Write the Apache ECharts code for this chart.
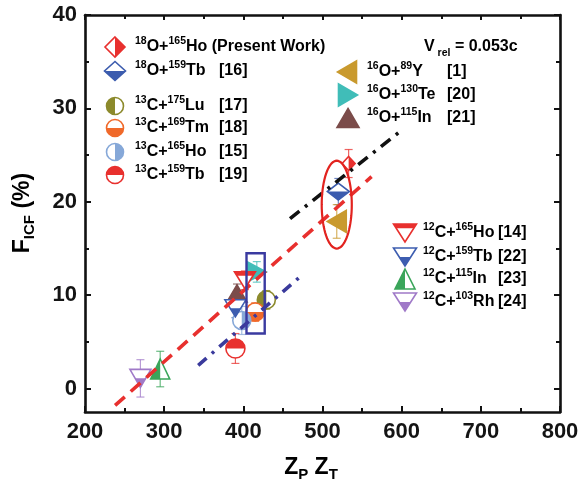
<!DOCTYPE html>
<html><head><meta charset="utf-8">
<script src="https://cdn.jsdelivr.net/npm/echarts@6/dist/echarts.min.js"></script>
<style>html,body{margin:0;padding:0;background:#fff}#c{width:582px;height:491px}</style>
</head><body><div id="c"></div>
<script>
// ---------------- data ----------------
const pointNames = ['18O+165Ho','18O+159Tb','13C+175Lu','13C+169Tm','13C+165Ho','13C+159Tb','16O+89Y','16O+130Te','16O+115In','12C+165Ho','12C+159Tb','12C+115In','12C+103Rh'];
const pointX   = [533, 520, 429, 415, 398, 390, 518, 417, 392, 402, 390, 295, 270];
const pointY   = [24.1, 21.1, 9.5, 8.2, 7.3, 4.3, 17.9, 12.5, 10.2, 11.6, 8.6, 2.1, 1.1];
const pointErr = [1.5, 1.4, 1.0, 1.0, 1.5, 1.6, 1.8, 1.1, 1.0, 1.0, 1.0, 1.9, 2.0];
const redLineX = [238, 562],  redLineY = [-1.8, 22.7];
const blueLineX = [343, 476], blueLineY = [2.5, 12.3];
const blackLineX = [459, 596], blackLineY = [18.2, 27.4];
const ellipseCenter = [518, 19.7], ellipseRadius = [19, 4.7];
const boxX = [404, 427], boxY = [5.9, 14.5];
const xTicks = [200, 300, 400, 500, 600, 700, 800];
const yTicks = [0, 10, 20, 30, 40];
const yMinorTicks = [5, 15, 25, 35];
const vrelText = '0.053c';
const legendRefs = ['', '[16]', '[17]', '[18]', '[15]', '[19]', '[1]', '[20]', '[21]', '[14]', '[22]', '[23]', '[24]'];

// ---------------- styles ----------------
const F = '"Liberation Sans", Arial, sans-serif';
const RED = '#e8302e';
const TXT = '#141414';
const pointStyle = [
  {shape:'diamond', half:'right',  color:RED,       w:13, h:14},
  {shape:'diamond', half:'bottom', color:'#3c5cae', w:22, h:17},
  {shape:'circle',  half:'left',   color:'#8c8a2c', w:18, h:18},
  {shape:'circle',  half:'bottom', color:'#f0692a', w:18, h:18},
  {shape:'circle',  half:'right',  color:'#86a8d8', w:18, h:18},
  {shape:'circle',  half:'top',    color:RED,       w:19, h:19},
  {shape:'tleft',   half:'full',   color:'#c99a2e', w:19, h:22},
  {shape:'tright',  half:'full',   color:'#40bdb8', w:19, h:20},
  {shape:'tup',     half:'full',   color:'#7b4c4a', w:20, h:17},
  {shape:'tdown',   half:'band',   color:RED,       w:21, h:17},
  {shape:'tdown',   half:'bottom', color:'#3d5db0', w:21, h:17},
  {shape:'tup',     half:'left',   color:'#3aa55a', w:19, h:20},
  {shape:'tdown',   half:'bottom', color:'#a07ac8', w:21, h:18}
];
// legend layout: marker x, y, text x, marker w, h
const legendPos = [
  [115, 47, 135, 20, 20], [115, 71, 135, 21, 19], [115, 106, 135, 17, 17], [115, 128, 135, 17, 17], [115, 152, 135, 17, 17], [115, 175, 135, 17, 17],
  [347, 72, 367, 19, 22], [348, 95, 367, 19, 22], [348, 118, 367, 22, 19],
  [405, 233, 423, 23, 18], [405, 257, 423, 23, 18], [405, 279, 423, 20, 20], [405, 302, 423, 23, 18]
];
const legendRefX = [0, 219, 219, 219, 219, 219, 447, 447, 447, 498, 498, 498, 498];

function markerEls(st, cx, cy, w, h) {
  const color = st.color;
  const els = [];
  if (st.shape === 'circle') {
    const r = w / 2;
    els.push({type:'circle', shape:{cx, cy, r}, style:{fill:'#fff', stroke:color, lineWidth:1.6}});
    const ang = {bottom:[0, Math.PI], top:[Math.PI, 2*Math.PI], right:[-Math.PI/2, Math.PI/2], left:[Math.PI/2, 1.5*Math.PI]}[st.half];
    els.push({type:'sector', shape:{cx, cy, r0:0, r:r, startAngle:ang[0], endAngle:ang[1], clockwise:true}, style:{fill:color}});
    return els;
  }
  let full, half = null;
  if (st.shape === 'diamond') {
    full = [[0,-h/2],[w/2,0],[0,h/2],[-w/2,0]];
    if (st.half === 'right') half = [[0,-h/2],[w/2,0],[0,h/2]];
    if (st.half === 'bottom') half = [[-w/2,0],[w/2,0],[0,h/2]];
  } else if (st.shape === 'tdown') {
    full = [[-w/2,-h/2],[w/2,-h/2],[0,h/2]];
    if (st.half === 'bottom') half = [[-w/4,0],[w/4,0],[0,h/2]];
    if (st.half === 'band') half = [[-w/2,-h/2],[w/2,-h/2],[w*0.38,-h*0.26],[-w*0.38,-h*0.26]];
  } else if (st.shape === 'tup') {
    full = [[0,-h/2],[w/2,h/2],[-w/2,h/2]];
    if (st.half === 'left') half = [[0,-h/2],[0,h/2],[-w/2,h/2]];
  } else if (st.shape === 'tleft') {
    full = [[-w/2,0],[w/2,-h/2],[w/2,h/2]];
  } else if (st.shape === 'tright') {
    full = [[w/2,0],[-w/2,-h/2],[-w/2,h/2]];
  }
  const tr = p => p.map(q => [cx + q[0], cy + q[1]]);
  els.push({type:'polygon', shape:{points:tr(full)}, style:{fill: st.half === 'full' ? color : '#fff', stroke:color, lineWidth:1.6, lineJoin:'miter'}});
  if (half) els.push({type:'polygon', shape:{points:tr(half)}, style:{fill:color}});
  return els;
}

function richLabel(name) {
  const m = name.match(/^(\d+)([A-Z][a-z]?)\+(\d+)([A-Z][a-z]?)$/);
  return '{s|' + m[1] + '}{m|' + m[2] + '+}{s|' + m[3] + '}{m|' + m[4] + '}';
}
const rich = {
  m:{fontSize:16, fontWeight:'bold', fontFamily:F, color:TXT, lineHeight:23, verticalAlign:'middle'},
  s:{fontSize:10.5, fontWeight:'bold', fontFamily:F, color:TXT, lineHeight:10, verticalAlign:'top'},
  b:{fontSize:10.5, fontWeight:'bold', fontFamily:F, color:TXT, lineHeight:10, verticalAlign:'bottom'}
};

const graphics = [];
pointNames.forEach((nm, i) => {
  const [mx, my, tx, lw, lh] = legendPos[i];
  markerEls(pointStyle[i], mx, my, lw, lh).forEach(e => graphics.push(Object.assign(e, {z:10})));
  let txt = richLabel(nm);
  if (i === 0) txt += '{m| (Present Work)}';
  graphics.push({type:'text', x:tx, y:my, z:10, style:{text:txt, rich, align:'left', verticalAlign:'middle'}});
  if (legendRefs[i]) graphics.push({type:'text', x:legendRefX[i], y:my, z:10, style:{text:'{m|' + legendRefs[i] + '}', rich, align:'left', verticalAlign:'middle'}});
});
graphics.push({type:'text', x:424, y:47, z:10, style:{text:'{m|V}{b| rel}{m| = ' + vrelText + '}', rich, align:'left', verticalAlign:'middle'}});
const richT = {
  m:{fontSize:23, fontWeight:'bold', fontFamily:F, color:TXT, lineHeight:28, verticalAlign:'middle'},
  b:{fontSize:15, fontWeight:'bold', fontFamily:F, color:TXT, lineHeight:15, verticalAlign:'bottom'}
};
graphics.push({type:'text', x:23, y:213, rotation:Math.PI/2, style:{text:'{m|F}{b|ICF}{m| (%)}', rich:richT, align:'center', verticalAlign:'middle'}});
graphics.push({type:'text', x:311, y:468, style:{text:'{m|Z}{b|P}{m| Z}{b|T}', rich:richT, align:'center', verticalAlign:'middle'}});

const pointData = pointX.map((x, i) => [x, pointY[i], pointErr[i], i]);

const axisCommon = {
  type:'value', splitLine:{show:false},
  axisLine:{show:true, onZero:false, lineStyle:{color:'#111', width:2.6}},
};
const tickStyle = {color:'#111', width:2};
const labelStyle = {fontSize:22, fontWeight:'bold', fontFamily:F, color:TXT};

const option = {
  animation:false,
  backgroundColor:'#fff',
  grid:{left:85, right:22, top:15, bottom:79},
  graphic: graphics,
  xAxis:[
    Object.assign({}, axisCommon, {min:xTicks[0], max:xTicks[xTicks.length-1], interval:100, position:'bottom',
      axisTick:{inside:true, length:6, lineStyle:tickStyle},
      minorTick:{show:true, splitNumber:2, length:4, lineStyle:tickStyle},
      axisLabel:Object.assign({margin:9}, labelStyle)}),
    Object.assign({}, axisCommon, {min:xTicks[0], max:xTicks[xTicks.length-1], interval:100, position:'top',
      axisTick:{inside:true, length:5, lineStyle:tickStyle},
      minorTick:{show:true, splitNumber:2, length:4, lineStyle:tickStyle},
      axisLabel:{show:false}})
  ],
  yAxis:[
    Object.assign({}, axisCommon, {min:-2.5, max:40, position:'left',
      axisTick:{inside:true, length:6, lineStyle:tickStyle, customValues:yTicks},
      axisLabel:Object.assign({margin:8, customValues:yTicks}, labelStyle)}),
    Object.assign({}, axisCommon, {min:-2.5, max:40, position:'right',
      axisTick:{inside:true, length:6, lineStyle:tickStyle, customValues:yTicks},
      axisLabel:{show:false}}),
    Object.assign({}, axisCommon, {min:-2.5, max:40, position:'left', axisLine:{show:false},
      axisTick:{inside:true, length:4, lineStyle:tickStyle, customValues:yMinorTicks},
      axisLabel:{show:false}}),
    Object.assign({}, axisCommon, {min:-2.5, max:40, position:'right', axisLine:{show:false},
      axisTick:{inside:true, length:4, lineStyle:tickStyle, customValues:yMinorTicks},
      axisLabel:{show:false}})
  ],
  series:[
    { // error bars
      type:'custom', silent:true, z:2, data:pointData,
      renderItem(params, api){
        const i = api.value(3), x = api.value(0), y = api.value(1), e = api.value(2);
        const t = api.coord([x, y + e]), b = api.coord([x, y - e]);
        const col = pointStyle[i].color, cw = 4;
        const ls = {stroke:col, lineWidth:1.2, opacity:0.75};
        return {type:'group', children:[
          {type:'line', shape:{x1:t[0], y1:t[1], x2:b[0], y2:b[1]}, style:ls},
          {type:'line', shape:{x1:t[0]-cw, y1:t[1], x2:t[0]+cw, y2:t[1]}, style:ls},
          {type:'line', shape:{x1:b[0]-cw, y1:b[1], x2:b[0]+cw, y2:b[1]}, style:ls}
        ]};
      }
    },
    { // markers
      type:'custom', silent:true, z:3, data:pointData,
      renderItem(params, api){
        const i = api.value(3);
        const c = api.coord([api.value(0), api.value(1)]);
        const st = pointStyle[i];
        return {type:'group', children: markerEls(st, c[0], c[1], st.w, st.h)};
      }
    },
    {type:'line', z:5, silent:true, symbol:'none', data:redLineX.map((x,i)=>[x, redLineY[i]]),
      lineStyle:{color:RED, width:3.6, type:[13,8], cap:'butt'}},
    {type:'line', z:5, silent:true, symbol:'none', data:blueLineX.map((x,i)=>[x, blueLineY[i]]),
      lineStyle:{color:'#3a3a9c', width:3.6, type:[11,7,3,7], cap:'butt'}},
    {type:'line', z:5, silent:true, symbol:'none', data:blackLineX.map((x,i)=>[x, blackLineY[i]]),
      lineStyle:{color:'#111', width:3.6, type:[12,7,3,7], cap:'butt'}},
    { // ellipse
      type:'custom', silent:true, z:6, data:[[ellipseCenter[0], ellipseCenter[1], ellipseRadius[0], ellipseRadius[1]]],
      renderItem(params, api){
        const c = api.coord([api.value(0), api.value(1)]);
        const s = api.size([api.value(2), api.value(3)]);
        const pts = [];
        for (let k = 0; k < 72; k++) {
          const a = k / 72 * Math.PI * 2;
          pts.push([c[0] + s[0] * Math.cos(a), c[1] + s[1] * Math.sin(a)]);
        }
        return {type:'polygon', shape:{points:pts}, style:{fill:'none', stroke:'#e2231f', lineWidth:2.2}};
      }
    },
    { // box
      type:'custom', silent:true, z:6, data:[[boxX[0], boxY[1], boxX[1], boxY[0]]],
      renderItem(params, api){
        const p0 = api.coord([api.value(0), api.value(1)]);
        const p1 = api.coord([api.value(2), api.value(3)]);
        return {type:'rect', shape:{x:p0[0], y:p0[1], width:p1[0]-p0[0], height:p1[1]-p0[1]}, style:{fill:'none', stroke:'#3a3aa0', lineWidth:2.4}};
      }
    }
  ]
};
const chart = echarts.init(document.getElementById('c'), null, {renderer:'canvas'});
chart.setOption(option);
</script>
</body></html>
